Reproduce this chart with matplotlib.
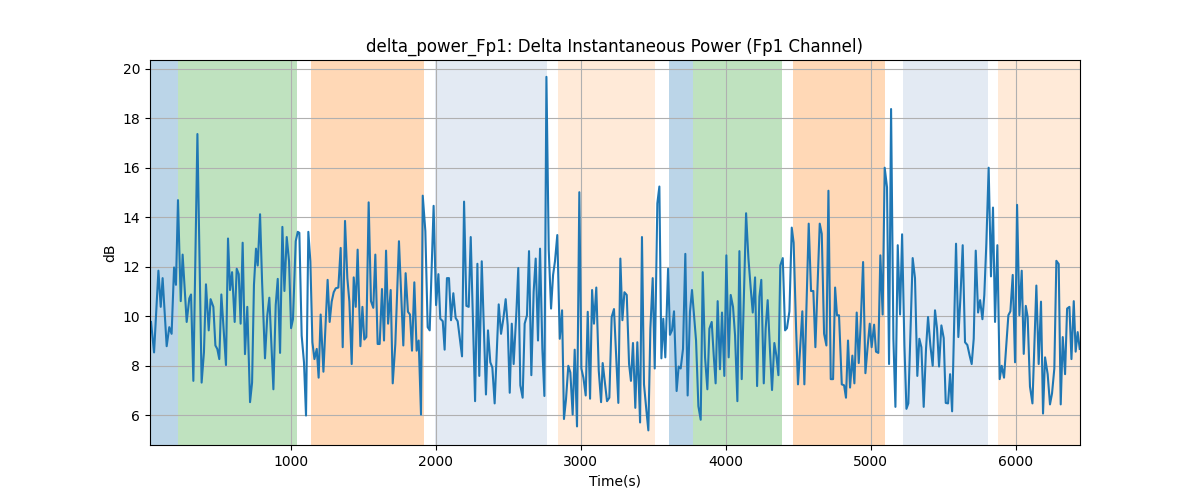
import numpy as np
import matplotlib.pyplot as plt

# delta power trace (Fp1)
time_s = [
    35, 56, 86, 102, 115, 143, 161, 177, 194, 207, 221, 240, 253, 281, 299, 311, 327, 355,
    384, 400, 414, 433, 446, 465, 479, 492, 506, 520, 552, 566, 580, 594, 612, 626, 640,
    653, 667, 683, 699, 718, 732, 745, 759, 771, 787, 801, 821, 837, 851,
    879, 895, 909, 925, 941, 955, 971, 987, 1001, 1014, 1033, 1047, 1058, 1074, 1090, 1104,
    1120, 1134, 1148, 1162, 1178, 1191, 1205, 1224, 1253, 1267, 1281, 1295, 1309, 1327,
    1343, 1357, 1373, 1389, 1403, 1419, 1433, 1447, 1460, 1479, 1493, 1506, 1520, 1536,
    1552, 1568, 1582, 1598, 1612,
    1628, 1642, 1656, 1670, 1688, 1702, 1720, 1745, 1775, 1791, 1807, 1821, 1835, 1851,
    1867, 1881, 1897, 1909, 1927, 1943, 1957, 1984, 2001, 2017, 2030, 2047, 2060, 2076,
    2090, 2104, 2120, 2136, 2150, 2180, 2194, 2210, 2226, 2240, 2270, 2286, 2299, 2316,
    2345, 2359, 2375, 2389, 2405, 2433,
    2449, 2465, 2481, 2495, 2509, 2523, 2536, 2555, 2568, 2582, 2598, 2612, 2628, 2642,
    2658, 2674, 2688, 2704, 2718, 2734, 2748, 2762, 2778, 2794, 2808, 2821, 2837, 2854,
    2870, 2883, 2897, 2913, 2927, 2943, 2957, 2973, 2989, 3003, 3017, 3033, 3047, 3063,
    3077, 3090, 3106, 3123, 3139, 3150, 3164, 3180, 3196, 3212,
    3228, 3258, 3272, 3286, 3300, 3316, 3332, 3345, 3359, 3375, 3389, 3408, 3421, 3435,
    3451, 3465, 3479, 3495, 3509, 3527, 3541, 3555, 3568, 3582, 3601, 3614, 3628, 3642,
    3660, 3674, 3688, 3704, 3720, 3736, 3752, 3766, 3794, 3810, 3826, 3840, 3856, 3872,
    3886, 3902, 3916, 3929, 3943, 3959, 3973, 3989, 4003, 4019,
    4033, 4049, 4063, 4079, 4093, 4109, 4139, 4155, 4171, 4185, 4201, 4215, 4231, 4244,
    4261, 4274, 4288, 4304, 4318, 4334, 4348, 4362, 4375, 4392, 4408, 4421, 4438, 4454,
    4467, 4484, 4497, 4527, 4541, 4571, 4587, 4603, 4617, 4647, 4661, 4677, 4693, 4707,
    4723, 4739, 4753, 4766, 4780,
    4799, 4815, 4828, 4842, 4856, 4872, 4886, 4902, 4916, 4930, 4946, 4962, 4976, 4992,
    5005, 5022, 5035, 5051, 5065, 5081, 5095, 5111, 5125, 5139, 5155, 5169, 5185, 5201,
    5215, 5231, 5245, 5258, 5288, 5304, 5320, 5334, 5348, 5364, 5380, 5394, 5410, 5426,
    5442, 5456, 5470, 5486, 5502, 5516, 5532, 5546, 5560, 5587, 5603,
    5617, 5633, 5649, 5665, 5681, 5695, 5709, 5723, 5739, 5753, 5769, 5782, 5796, 5812,
    5828, 5842, 5856, 5872, 5888, 5902, 5918, 5948, 5962, 5978, 5994, 6008, 6024, 6040,
    6054, 6068, 6081, 6097, 6114, 6141, 6157, 6173, 6187, 6201, 6219, 6235, 6249, 6265,
    6279, 6295, 6309, 6323, 6339, 6353, 6369, 6383, 6399, 6412, 6426, 6440,
]
power_db = [
    9.77, 8.54, 11.84, 10.38, 11.54, 8.79, 9.56, 9.29, 11.97, 11.27, 14.69, 10.61, 12.49,
    9.77, 10.72, 10.88, 7.39, 17.36, 7.32, 8.54, 11.29, 9.43, 10.69, 10.38, 8.82, 8.68,
    8.27, 10.88, 8.03, 13.14, 11.06, 11.78, 9.77, 11.92, 11.70, 9.70, 12.97, 8.47, 10.38,
    6.53, 7.32, 11.27, 12.73, 12.05, 14.12, 11.40, 8.30, 10.04, 10.75,
    7.05, 10.45, 11.51, 8.52, 13.61, 11.02, 13.20, 12.22, 9.52, 9.88, 13.03, 13.41, 13.37,
    9.22, 8.14, 5.99, 13.41, 12.22, 8.95, 8.27, 8.68, 7.52, 10.07, 7.76, 11.47, 9.77,
    10.59, 10.97, 11.13, 11.16, 12.76, 8.75, 13.85, 11.54, 10.59, 8.07, 11.57, 10.38,
    12.69, 8.79, 10.38, 9.06, 9.16, 14.60, 10.61, 10.34, 12.49, 8.88, 8.88,
    11.10, 9.02, 12.65, 9.70, 11.06, 7.29, 8.88, 13.03, 8.82, 11.74, 10.18, 10.07, 8.61,
    11.37, 8.61, 9.02, 6.03, 14.87, 13.44, 9.56, 9.43, 14.46, 10.45, 11.70, 9.90, 9.80,
    8.65, 11.54, 11.54, 9.84, 10.93, 9.93, 9.80, 8.38, 14.63, 10.42, 10.38, 13.20, 6.57,
    12.12, 7.59, 12.22, 6.84, 9.43, 8.14, 7.93, 6.48, 10.48,
    9.29, 9.90, 10.69, 9.63, 6.91, 9.70, 8.07, 10.18, 11.95, 7.21, 6.71, 9.70, 10.04,
    12.63, 7.62, 10.99, 12.33, 9.02, 12.73, 8.68, 6.78, 19.67, 12.69, 10.31, 11.67, 12.22,
    13.28, 9.09, 10.24, 5.85, 6.64, 8.00, 7.73, 6.03, 8.65, 5.55, 15.01, 7.89, 7.52, 6.80,
    10.18, 6.67, 11.06, 9.70, 11.16, 7.80, 6.53, 8.11, 7.39, 6.57, 6.71, 9.97,
    10.29, 6.50, 12.33, 9.84, 10.97, 10.86, 8.07, 7.39, 8.92, 6.30, 8.95, 5.71, 13.20,
    7.25, 6.23, 5.39, 9.50, 11.54, 7.89, 14.56, 15.24, 8.30, 9.90, 8.34, 11.92, 9.25,
    9.43, 10.20, 6.98, 7.97, 7.89, 8.68, 12.52, 6.80, 10.18, 11.06, 9.02, 6.37, 5.82,
    11.78, 8.34, 7.05, 9.50, 9.77, 8.41, 7.29, 10.61, 7.86, 10.15, 7.59, 12.46, 8.34,
    10.86, 10.38, 9.22, 6.57, 12.63, 7.46, 14.16, 12.35, 11.13, 10.15, 11.57, 7.18, 10.79,
    11.47, 7.29, 9.50, 10.65, 8.61, 7.02, 8.92, 8.41, 7.62, 12.05, 12.35, 9.43, 9.52,
    10.20, 13.58, 12.97, 9.50, 7.25, 10.20, 7.25, 13.74, 11.02, 11.02, 8.75, 13.74, 13.33,
    9.29, 8.82, 15.07, 7.46, 7.46, 11.16, 10.04, 10.04,
    7.25, 7.21, 6.71, 9.02, 7.12, 8.41, 7.29, 10.15, 8.11, 9.77, 12.19, 7.70, 8.68, 9.70,
    8.75, 9.66, 8.57, 8.52, 12.46, 10.07, 16.00, 15.21, 8.07, 18.37, 9.09, 6.34, 12.87,
    10.07, 13.31, 8.82, 6.26, 6.48, 12.35, 11.54, 7.59, 9.09, 8.75, 6.34, 8.68, 9.97,
    8.82, 8.00, 10.24, 9.50, 7.97, 9.63, 9.12, 6.50, 6.48, 7.66, 6.16, 12.93, 9.16,
    10.72, 12.87, 8.95, 8.84, 8.41, 8.07, 9.09, 12.65, 10.15, 10.65, 9.88, 10.86, 12.93,
    16.00, 11.61, 14.39, 9.77, 12.87, 7.46, 8.00, 7.52, 10.04, 10.20, 11.67, 8.14, 14.50,
    10.04, 11.84, 8.48, 10.42, 9.97, 7.16, 6.48, 11.24, 8.07, 10.59, 6.07, 8.34, 7.66,
    6.44, 6.88, 7.89, 12.24, 12.11, 6.44, 9.16, 7.66, 10.31, 10.38, 8.27, 10.61, 8.57,
    9.36, 8.68,
]

# shaded segments: (start, end, colour, alpha)
seg_start = [28, 223, 1138, 1994, 2842, 3608, 3775, 4463, 5222, 5877]
seg_end = [223, 1044, 1918, 2766, 3511, 3775, 4385, 5095, 5806, 6442]
seg_color = ['tab:blue', 'tab:green', 'tab:orange', 'lightsteelblue', 'tab:orange',
             'tab:blue', 'tab:green', 'tab:orange', 'lightsteelblue', 'tab:orange']
seg_alpha = [0.3, 0.3, 0.3, 0.35, 0.16, 0.3, 0.3, 0.3, 0.35, 0.16]

fig, ax = plt.subplots(figsize=(12, 5))
for s, e, c, a in zip(seg_start, seg_end, seg_color, seg_alpha):
    ax.axvspan(s, e, color=c, alpha=a, linewidth=0)
ax.plot(time_s, power_db, color='tab:blue', linewidth=1.5)
ax.set_xlim(28, 6442)
ax.set_ylim(4.8, 20.35)
ax.set_title('delta_power_Fp1: Delta Instantaneous Power (Fp1 Channel)')
ax.set_xlabel('Time(s)')
ax.set_ylabel('dB')
ax.grid(True)
fig.savefig('out.png', dpi=100)
